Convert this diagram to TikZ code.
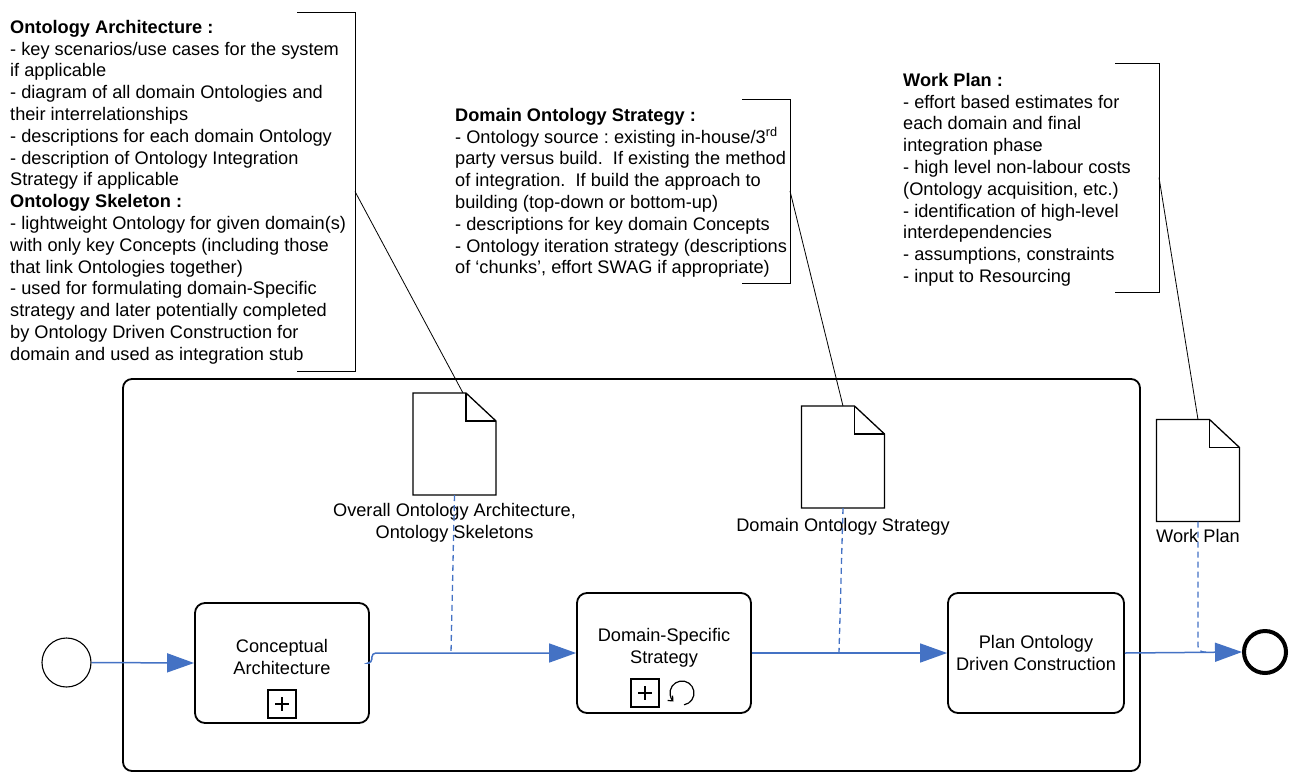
\documentclass[tikz,border=0pt]{standalone}
\usepackage{fontspec}
\setmainfont{Liberation Sans}
\usetikzlibrary{arrows.meta,calc}
\definecolor{flowblue}{RGB}{68,114,196}
\frenchspacing

% document symbol drawn on an invisible box node
\newcommand\drawdocument[1]{%
  \draw[docline] (#1.north west) -- ($(#1.north east)+(-30,0)$)
    -- ($(#1.north east)+(0,28)$) -- (#1.south east) -- (#1.south west) -- cycle;
  \draw[docline] ($(#1.north east)+(-30,0)$) -- ($(#1.north east)+(-30,28)$)
    -- ($(#1.north east)+(0,28)$);}

% sub-process marker (square with a plus)
\newcommand\drawplus[1]{%
  \draw[line width=1.2pt] ($(#1.center)+(-7,0)$) -- ($(#1.center)+(7,0)$)
    ($(#1.center)+(0,-7)$) -- ($(#1.center)+(0,7)$);}

\begin{document}
\begin{tikzpicture}[x=1pt,y=-1pt,
  note/.style={anchor=north west, inner sep=0pt, align=left,
    font=\fontsize{18.2}{21.8}\selectfont},
  lbl/.style={anchor=north, inner sep=0pt, align=center,
    font=\fontsize{18.2}{21.8}\selectfont},
  task/.style={draw, line width=1.8pt, rounded corners=10pt,
    minimum height=120pt, inner sep=0pt},
  event/.style={draw, circle, inner sep=0pt},
  flow/.style={draw, color=flowblue, line width=1.5pt,
    -{Triangle[length=27pt,width=19pt]}},
  assoc/.style={draw=flowblue, line width=1.3pt, dash pattern=on 6pt off 4pt},
  bracket/.style={draw, line width=0.9pt},
  link/.style={draw, line width=0.8pt},
  docbox/.style={minimum width=83pt, minimum height=102pt, inner sep=0pt, outer sep=0pt},
  docline/.style={line width=1.3pt},
  marker/.style={draw, line width=1.2pt, minimum size=28pt, inner sep=0pt}
]
\useasboundingbox (0,0) rectangle (1298,774);

% pool
\draw[line width=1.8pt, rounded corners=9pt] (123,379) rectangle (1140,771);

% text annotations
\node[note] (noteArch) at (10,20) {\textbf{Ontology Architecture :}\\
- key scenarios/use cases for the system\\
if applicable\\
- diagram of all domain Ontologies and\\
their interrelationships\\
- descriptions for each domain Ontology\\
- description of Ontology Integration\\
Strategy if applicable\\
\textbf{Ontology Skeleton :}\\
- lightweight Ontology for given domain(s)\\
with only key Concepts (including those\\
that link Ontologies together)\\
- used for formulating domain-Specific\\
strategy and later potentially completed\\
by Ontology Driven Construction for\\
domain and used as integration stub};

\node[note] (noteStrat) at (455,108) {\textbf{Domain Ontology Strategy :}\\
- Ontology source : existing in-house/3\textsuperscript{rd}\\
party versus build.\ \ If existing the method\\
of integration.\ \ If build the approach to\\
building (top-down or bottom-up)\\
- descriptions for key domain Concepts\\
- Ontology iteration strategy (descriptions\\
of `chunks', effort SWAG if appropriate)};

\node[note] (notePlan) at (903,73) {\textbf{Work Plan :}\\
- effort based estimates for\\
each domain and final\\
integration phase\\
- high level non-labour costs\\
(Ontology acquisition, etc.)\\
- identification of high-level\\
interdependencies\\
- assumptions, constraints\\
- input to Resourcing};

% brackets of the annotations
\draw[bracket] (297,12) -- (355,12) -- (355,371) -- (297,371);
\coordinate (n1) at (355,191.5);
\draw[bracket] (742,99) -- (790,99) -- (790,283) -- (742,283);
\coordinate (n2) at (790,191);
\draw[bracket] (1115,63) -- (1159,63) -- (1159,292) -- (1115,292);
\coordinate (n3) at (1159,177.5);

% data objects
\node[docbox] (doc1) at (454.5,444) {};
\node[docbox] (doc2) at (843,457) {};
\node[docbox] (doc3) at (1198,470.5) {};
\drawdocument{doc1}
\drawdocument{doc2}
\drawdocument{doc3}
\node[lbl] (doc1l) at ($(doc1.south)+(0,8)$) {Overall Ontology Architecture,\\Ontology Skeletons};
\node[lbl] (doc2l) at ($(doc2.south)+(0,10)$) {Domain Ontology Strategy};
\node[lbl] (doc3l) at ($(doc3.south)+(0,8)$) {Work Plan};

% annotation links
\draw[link] (n1) -- ($(doc1.north)+(8.5,0)$);
\draw[link] (n2) -- (doc2.north);
\draw[link] (n3) -- (doc3.north);

% events
\node[event, line width=1.1pt, minimum size=49pt] (start) at (66.5,662.5) {};
\node[event, line width=4pt, minimum size=42pt] (end) at (1265,652) {};

% tasks
\node[task, minimum width=174pt] (t1) at (282,663) {};
\node[task, minimum width=174pt] (t2) at (664,653) {};
\node[task, minimum width=176pt] (t3) at (1036,653) {};
\node[lbl] (t1l) at (282,639) {Conceptual\\Architecture};
\node[lbl] (t2l) at (664,628) {Domain-Specific\\Strategy};
\node[lbl] (t3l) at (1036,635) {Plan Ontology\\Driven Construction};

% task markers
\node[marker] (t1m) at (282,704) {};
\drawplus{t1m}
\node[marker] (t2m) at (645,693) {};
\drawplus{t2m}
\coordinate (t2loop) at (682,693);
\begin{scope}[shift={(t2loop)}, y=1pt]
  \draw[line width=1.2pt, -{Straight Barb[length=4pt,width=7pt]}]
    (280:12) arc[start angle=280, end angle=585, radius=12];
\end{scope}

% sequence flows
\draw[flow] (start.east) -- (t1.west);
\draw[flow, rounded corners=4pt] (t1.east) -- ++(2,0) |- (t2.west);
\draw[flow] (t2.east) -- (t3.west);
\draw[flow] (t3.east) -- (end.west);

% associations
\coordinate (a1) at (451,653);
\coordinate (a2) at (839,653);
\coordinate (a3) at (1210,652);
\draw[assoc] (doc1.south) -- (a1);
\draw[assoc] (doc2.south) -- (a2);
\draw[assoc, rounded corners=6pt] (doc3.south) |- (a3);
\end{tikzpicture}
\end{document}
